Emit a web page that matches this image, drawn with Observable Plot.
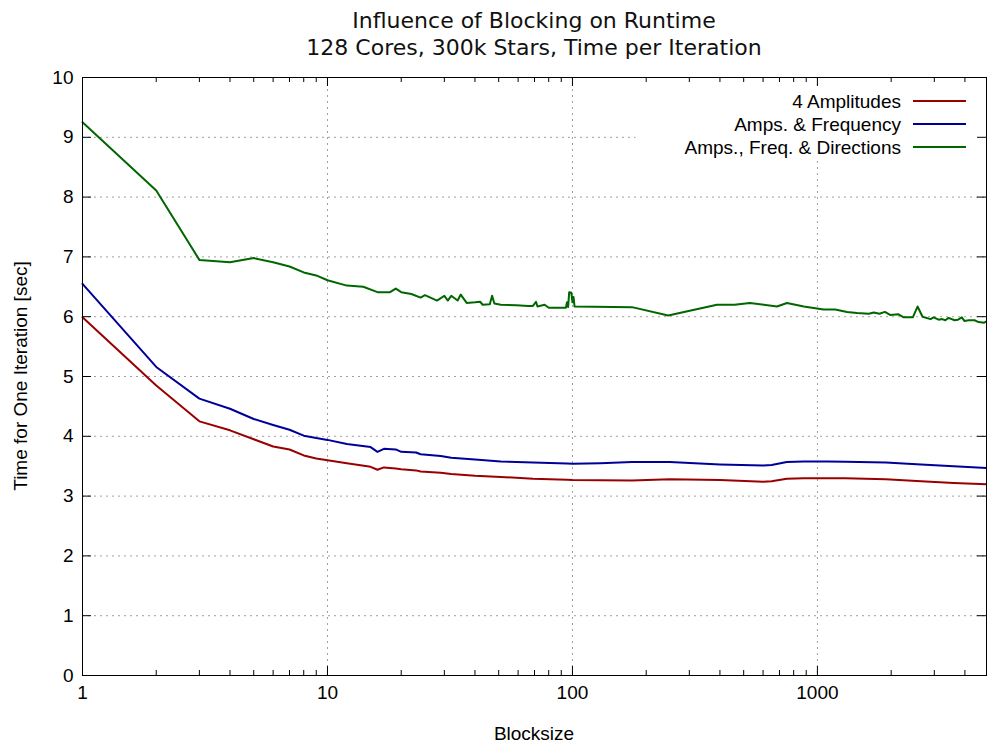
<!DOCTYPE html>
<html>
<head>
<meta charset="utf-8">
<script src="https://cdn.jsdelivr.net/npm/d3@7"></script>
<script src="https://cdn.jsdelivr.net/npm/@observablehq/plot@0.6"></script>
<style>
  body { margin: 0; background: #fff; }
  #wrap { position: relative; width: 987px; height: 743px; overflow: hidden; }
  #title { position: absolute; left: 134px; width: 800px; top: 7px; text-align: center;
           font-family: "DejaVu Sans", sans-serif; font-size: 22px; line-height: 27px; color: #111; }
  .lab { position: absolute; font-family: "Liberation Sans", Arial, sans-serif; font-size: 19px;
         color: #000; white-space: nowrap; line-height: 1; }
  #ylab { left: 20px; top: 376px; transform: translate(-50%, -50%) rotate(-90deg); }
  #xlab { left: 534px; top: 733px; transform: translate(-50%, -50%); }
  .leg { position: absolute; font-family: "Liberation Sans", Arial, sans-serif; font-size: 19px;
         color: #000; white-space: nowrap; line-height: 1; }
  .legtxt { right: 86px; transform: translateY(-50%); text-align: right; }
  .legline { position: absolute; left: 913px; width: 53px; height: 2px; }
</style>
</head>
<body>
<div id="wrap">
  <div id="chart"></div>
  <div id="title">Influence of Blocking on Runtime<br>128 Cores, 300k Stars, Time per Iteration</div>
  <div class="lab" id="ylab">Time for One Iteration [sec]</div>
  <div class="lab" id="xlab">Blocksize</div>
  <div id="legend"></div>
</div>
<script>
// ---- data ----
const seriesNames = ["4 Amplitudes", "Amps. & Frequency", "Amps., Freq. & Directions"];
const seriesColors = ["#990000", "#000099", "#006600"];

const blocksizes = [1,2,3,4,5,6,7,8,9,10,12,15,16,17,19,20,23,24,29,32,40,51,69,95,100,130,175,250,400,600,650,750,880,1100,1300,1900,2650,3600,4900];
const ampsTime = [5.99,4.85,4.25,4.10,3.95,3.83,3.78,3.68,3.63,3.60,3.55,3.49,3.44,3.48,3.46,3.45,3.43,3.41,3.39,3.37,3.34,3.32,3.29,3.275,3.27,3.265,3.26,3.28,3.27,3.24,3.25,3.29,3.30,3.30,3.30,3.28,3.25,3.22,3.20];
const ampsFreqTime = [6.55,5.16,4.63,4.46,4.29,4.19,4.11,4.01,3.97,3.94,3.87,3.82,3.74,3.79,3.78,3.74,3.73,3.70,3.67,3.64,3.61,3.58,3.56,3.545,3.54,3.55,3.57,3.57,3.53,3.51,3.52,3.57,3.58,3.58,3.575,3.56,3.53,3.50,3.47];

const dirBlocksizes = [1,2,3,4,5,6,7,8,9,10,12,14,16,18,19,20,22,24,25,28,30,31,32,34,35,37,40,42,43,46,47,48,51,59,66,69,71,72,77,80,94,95,96,97,99,100,101,102,175,246,389,459,530,684,751,880,1059,1183,1321,1450,1621,1699,1793,1885,1980,2144,2250,2451,2563,2686,2896,2980,3126,3230,3328,3430,3630,3750,3885,3980,4150,4379,4550,4795,4900];
const dirTime = [9.25,8.11,6.95,6.91,6.98,6.91,6.84,6.74,6.69,6.61,6.52,6.50,6.41,6.41,6.47,6.41,6.38,6.32,6.36,6.27,6.35,6.27,6.35,6.27,6.37,6.23,6.24,6.25,6.20,6.21,6.35,6.22,6.20,6.19,6.18,6.18,6.25,6.17,6.20,6.15,6.15,6.24,6.16,6.41,6.40,6.24,6.33,6.17,6.16,6.02,6.20,6.20,6.23,6.17,6.23,6.17,6.12,6.12,6.08,6.06,6.05,6.07,6.05,6.08,6.03,6.04,5.99,5.99,6.17,6.00,5.96,5.99,5.95,5.96,5.94,5.98,5.94,5.95,5.99,5.93,5.94,5.94,5.91,5.90,5.92];

const yTicks = [0,1,2,3,4,5,6,7,8,9,10];
const xMajor = [1,10,100,1000];
const xMinor = [2,3,4,5,6,7,8,9,20,30,40,50,60,70,80,90,200,300,400,500,600,700,800,900,2000,3000,4000];
const xGrid = [10,100,1000];
const yGrid = [1,2,3,4,5,6,7,8,9];

// ---- build table ----
const rows = [];
blocksizes.forEach((b, i) => rows.push({series: seriesNames[0], x: b, y: ampsTime[i]}));
blocksizes.forEach((b, i) => rows.push({series: seriesNames[1], x: b, y: ampsFreqTime[i]}));
dirBlocksizes.forEach((b, i) => rows.push({series: seriesNames[2], x: b, y: dirTime[i]}));

const W = 987, H = 743, mL = 82, mR = 1, mT = 77, mB = 68;
const innerW = W - mL - mR, innerH = H - mT - mB;
const grid = {stroke: "#a0a0a0", strokeWidth: 1, strokeDasharray: "2,4"};

const chart = Plot.plot({
  width: W, height: H,
  marginLeft: mL, marginRight: mR, marginTop: mT, marginBottom: mB,
  x: {type: "log", domain: [1, 4900]},
  y: {domain: [0, 10]},
  color: {domain: seriesNames, range: seriesColors},
  style: {fontFamily: "'Liberation Sans', Arial, sans-serif", fontSize: "19px", color: "#000", background: "#fff", overflow: "visible"},
  marks: [
    Plot.ruleY(yGrid, grid),
    Plot.ruleX(xGrid, grid),
    Plot.frame({fill: "#fff", stroke: null, insetLeft: 553, insetTop: 11, insetBottom: 515}),
    Plot.line(rows, {x: "x", y: "y", z: "series", stroke: "series", strokeWidth: 2, strokeLinejoin: "round"}),
    Plot.ruleX(xMajor, {stroke: "#000", insetTop: innerH - 9}),
    Plot.ruleX(xMajor, {stroke: "#000", insetBottom: innerH - 9}),
    Plot.ruleX(xMinor, {stroke: "#000", insetTop: innerH - 5}),
    Plot.ruleX(xMinor, {stroke: "#000", insetBottom: innerH - 5}),
    Plot.ruleY(yTicks, {stroke: "#000", insetRight: innerW - 9}),
    Plot.ruleY(yTicks, {stroke: "#000", insetLeft: innerW - 9}),
    Plot.axisX(xMajor, {tickSize: 0, tickPadding: 10, tickFormat: d => String(d), label: null}),
    Plot.axisY(yTicks, {tickSize: 0, tickPadding: 9, tickFormat: d => String(d), label: null}),
    Plot.frame({stroke: "#000", strokeWidth: 1})
  ]
});
document.getElementById("chart").appendChild(chart);

// ---- legend ----
const legend = document.getElementById("legend");
const legendY = [101, 124, 147];
seriesNames.forEach((name, i) => {
  const t = document.createElement("div");
  t.className = "leg legtxt";
  t.style.top = legendY[i] + "px";
  t.textContent = name;
  legend.appendChild(t);
  const l = document.createElement("div");
  l.className = "legline";
  l.style.top = (legendY[i] - 1) + "px";
  l.style.background = seriesColors[i];
  legend.appendChild(l);
});
</script>
</body>
</html>
